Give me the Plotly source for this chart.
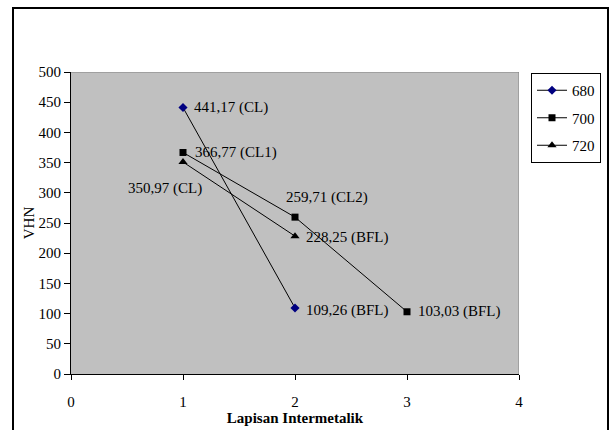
import plotly.graph_objects as go

# Microhardness (VHN) of intermetallic layers at three temperatures
layers_680 = [1, 2]
vhn_680 = [441.17, 109.26]
notes_680 = ["441,17 (CL)", "109,26 (BFL)"]

layers_700 = [1, 2, 3]
vhn_700 = [366.77, 259.71, 103.03]
notes_700 = ["366,77 (CL1)", "259,71 (CL2)", "103,03 (BFL)"]

layers_720 = [1, 2]
vhn_720 = [350.97, 228.25]
notes_720 = ["350,97 (CL)", "228,25 (BFL)"]

x_ticks = [0, 1, 2, 3, 4]
y_ticks = [0, 50, 100, 150, 200, 250, 300, 350, 400, 450, 500]

FONT = "Liberation Serif"
W, H = 611, 430
ML, MR, MT, MB = 71, 92, 72, 56

fig = go.Figure()

fig.add_trace(go.Scatter(
    x=layers_680, y=vhn_680, name="680", mode="lines+markers", legendgroup="a",
    line=dict(color="#000000", width=1),
    marker=dict(symbol="diamond", size=7, color="#000080")))
fig.add_trace(go.Scatter(
    x=layers_700, y=vhn_700, name="700", mode="lines+markers", legendgroup="b",
    line=dict(color="#000000", width=1),
    marker=dict(symbol="square", size=7, color="#000000")))
fig.add_trace(go.Scatter(
    x=layers_720, y=vhn_720, name="720", mode="lines+markers", legendgroup="c",
    line=dict(color="#000000", width=1),
    marker=dict(symbol="triangle-up", size=8, color="#000000")))

# point labels: (x, y, text, anchor, xshift, yshift)
placements = [
    (layers_680[0], vhn_680[0], notes_680[0], "left", 9, 0),
    (layers_680[1], vhn_680[1], notes_680[1], "left", 9, -2),
    (layers_700[0], vhn_700[0], notes_700[0], "left", 10, 0),
    (layers_700[1], vhn_700[1], notes_700[1], "left", -11, 20),
    (layers_700[2], vhn_700[2], notes_700[2], "left", 9, 0),
    (layers_720[0], vhn_720[0], notes_720[0], "right", 21, -26),
    (layers_720[1], vhn_720[1], notes_720[1], "left", 9, -1),
]
for x, y, t, anc, dx, dy in placements:
    fig.add_annotation(x=x, y=y, text=t, showarrow=False, xanchor=anc,
                       yanchor="middle", xshift=dx, yshift=dy,
                       font=dict(family=FONT, size=15, color="#000000"))

# plot-area frame (top and right in grey)
fig.add_shape(type="line", xref="x", yref="y", x0=0, x1=4, y0=500, y1=500,
              line=dict(color="#808080", width=1))
fig.add_shape(type="line", xref="x", yref="y", x0=4, x1=4, y0=0, y1=500,
              line=dict(color="#808080", width=1))

# outer chart border
pw = W - ML - MR
ph = H - MT - MB
fig.add_shape(type="rect", xref="paper", yref="paper",
              x0=(13 - ML) / pw, x1=(608 - ML) / pw,
              y0=(H - MB - 445) / ph, y1=(H - MB - 8) / ph,
              line=dict(color="#000000", width=2), fillcolor="rgba(0,0,0,0)")

fig.update_layout(
    width=W, height=H,
    margin=dict(l=ML, r=MR, t=MT, b=MB, autoexpand=False),
    paper_bgcolor="#ffffff",
    plot_bgcolor="#C0C0C0",
    font=dict(family=FONT, size=15, color="#000000"),
    showlegend=True,
    legend=dict(x=(531 - ML) / pw, y=(H - MB - 73) / ph, xanchor="left", yanchor="top",
                bordercolor="#000000", borderwidth=1, bgcolor="#ffffff",
                font=dict(family=FONT, size=15), itemwidth=30,
                tracegroupgap=5),
)
fig.update_xaxes(range=[0, 4], tickvals=x_ticks, ticktext=[str(v) for v in x_ticks],
                 showgrid=False, zeroline=False, showline=True, linecolor="#000000",
                 linewidth=1, ticks="outside", ticklen=5, tickcolor="#000000",
                 ticklabelstandoff=9, automargin=False,
                 title=dict(text="<b>Lapisan Intermetalik</b>", standoff=3,
                            font=dict(family=FONT, size=15)))
fig.update_yaxes(range=[0, 500], tickvals=y_ticks, showgrid=False, zeroline=False,
                 showline=True, linecolor="#000000", linewidth=1,
                 ticks="outside", ticklen=6, tickcolor="#000000", automargin=False,
                 title=dict(text="VHN", standoff=0, font=dict(family=FONT, size=15)))

fig.write_html("out.html")
